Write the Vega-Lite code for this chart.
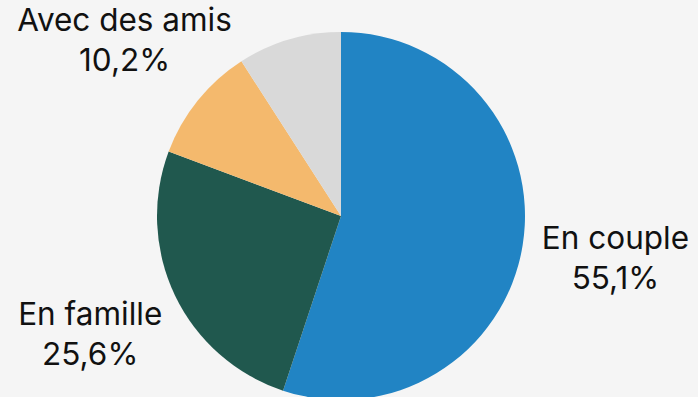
{
  "$schema": "https://vega.github.io/schema/vega-lite/v6.json",
  "width": 682,
  "height": 362,
  "autosize": {"type": "none"},
  "padding": {"left": 0, "top": 35, "right": 16, "bottom": 0},
  "background": "#f5f5f5",
  "config": {"view": {"stroke": null}, "font": "Inter"},
  "data": {
    "values": [
      {"category": "En couple", "value": 55.1, "ord": 1},
      {"category": "En famille", "value": 25.6, "ord": 2},
      {"category": "Avec des amis", "value": 10.2, "ord": 3},
      {"category": "Autre", "value": 9.1, "ord": 4}
    ]
  },
  "encoding": {
    "theta": {"field": "value", "type": "quantitative", "stack": true},
    "order": {"field": "ord", "type": "quantitative"},
    "color": {
      "field": "category",
      "type": "nominal",
      "scale": {
        "domain": ["En couple", "En famille", "Avec des amis", "Autre"],
        "range": ["#2184c4", "#20584e", "#f4b96d", "#d9d9d9"]
      },
      "legend": null
    }
  },
  "layer": [
    {"mark": {"type": "arc", "outerRadius": 184}},
    {
      "transform": [
        {"filter": "datum.value >= 10"},
        {"calculate": "datum.category + '\\n' + replace(format(datum.value, '.1f'), '.', ',') + '%'", "as": "txt"}
      ],
      "mark": {"type": "text", "radius": 278, "fontSize": 31.5, "lineBreak": "\n", "lineHeight": 40, "dy": -20, "align": "center", "baseline": "middle", "color": "#111111"},
      "encoding": {"text": {"field": "txt"}, "color": {"value": "#111111"}}
    }
  ]
}
